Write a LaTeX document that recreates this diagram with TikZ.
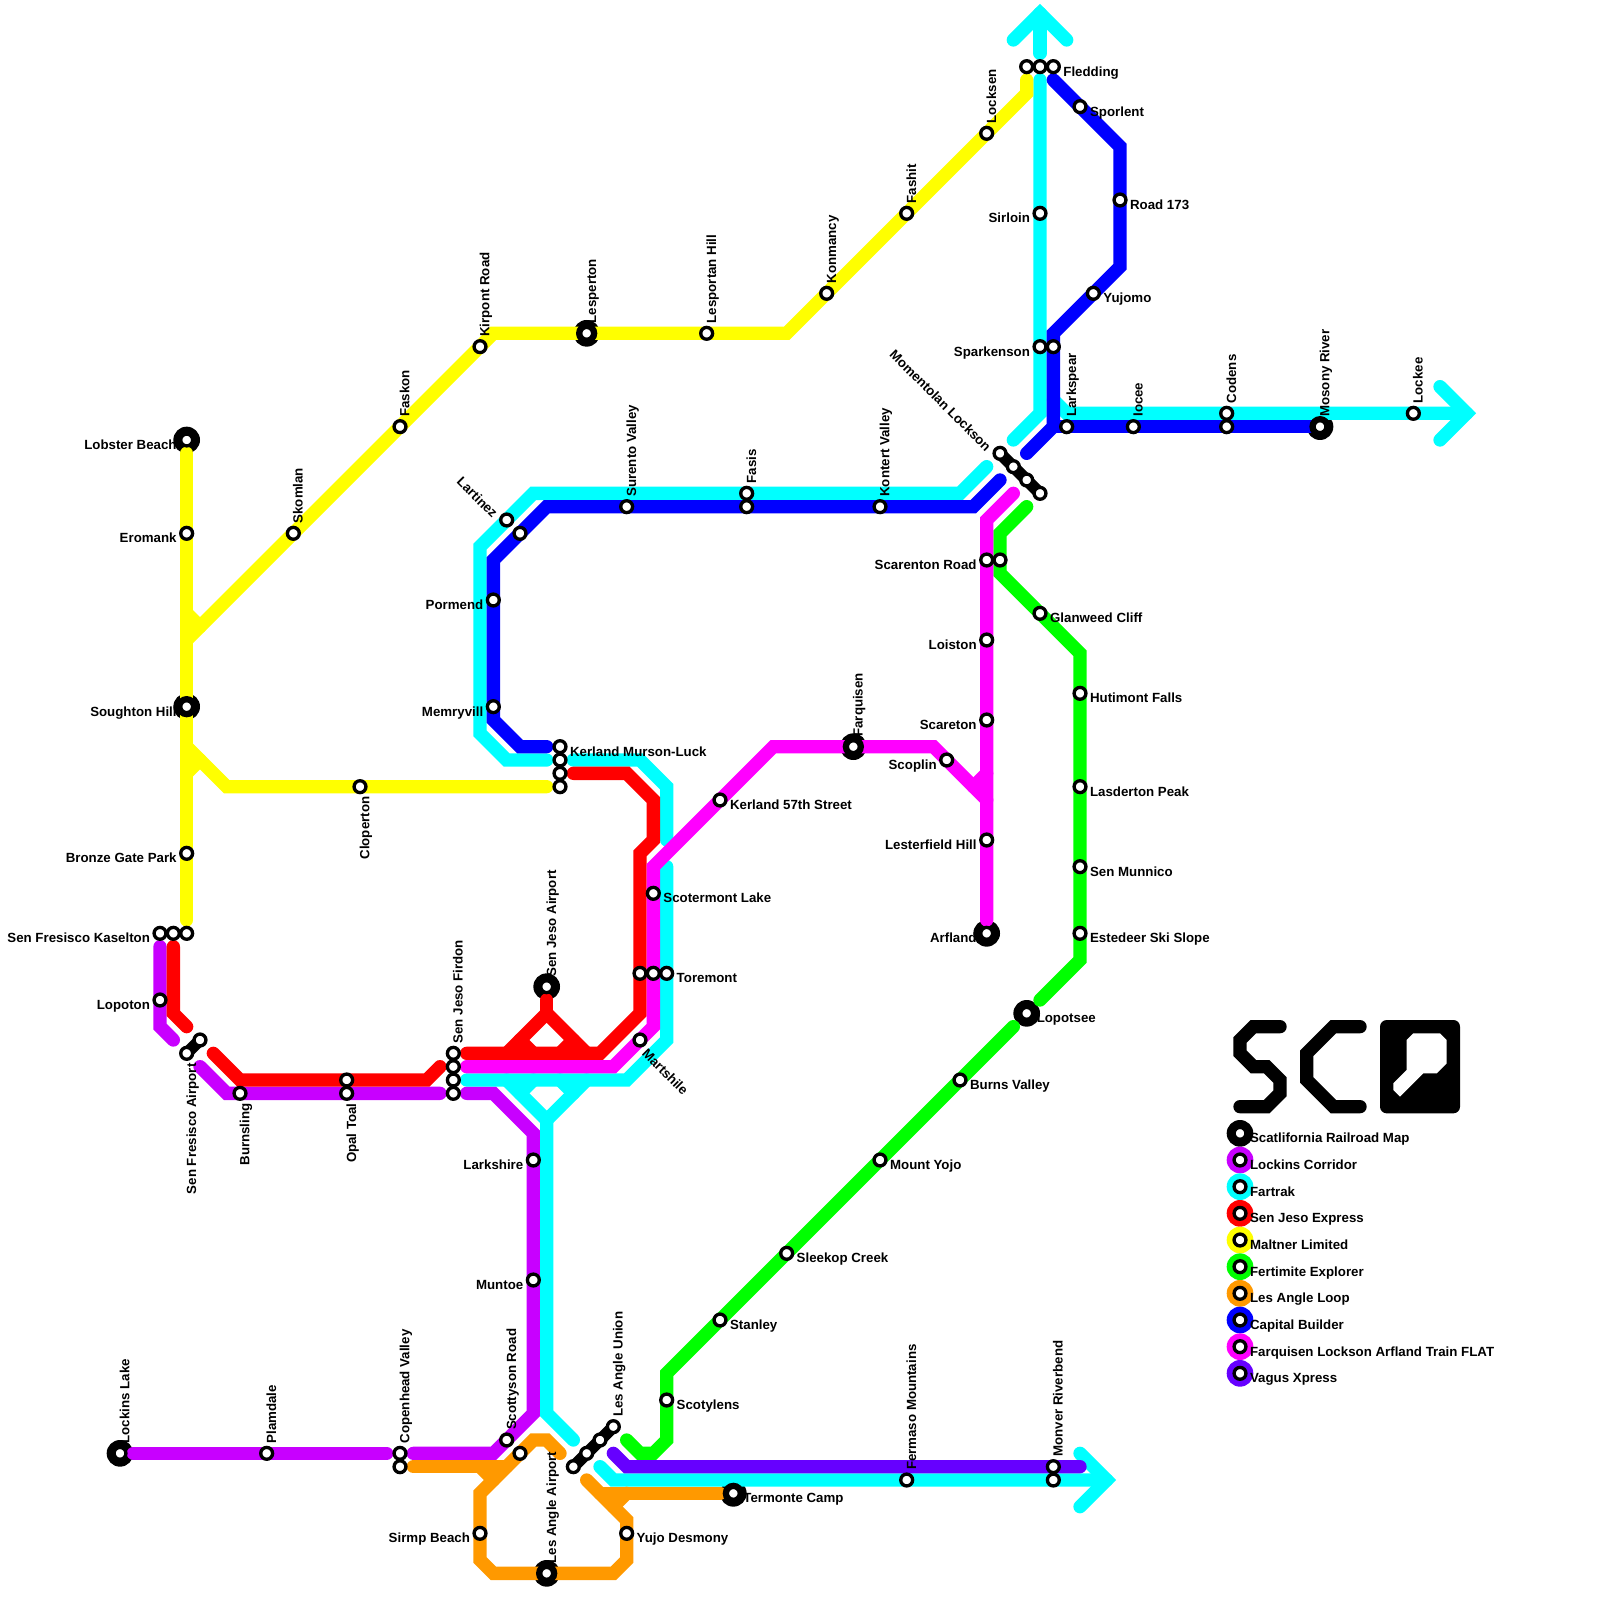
\documentclass[tikz,border=0pt]{standalone}
\usepackage{fontspec}
\setmainfont{Liberation Sans}[BoldFont={Liberation Sans Bold}]
\usetikzlibrary{positioning, backgrounds}
\definecolor{lockinspurple}{RGB}{200,0,255}
\definecolor{fartrakcyan}{RGB}{0,255,255}
\definecolor{jesored}{RGB}{255,0,0}
\definecolor{maltneryellow}{RGB}{255,255,0}
\definecolor{fertimitegreen}{RGB}{0,255,0}
\definecolor{loopamber}{RGB}{255,153,0}
\definecolor{capitalblue}{RGB}{0,0,255}
\definecolor{arflandpink}{RGB}{255,0,255}
\definecolor{vagusviolet}{RGB}{102,0,255}
\tikzset{
  route/.style={line width=0.2cm, line cap=round},
  stop/.style={circle, draw=black, fill=white, line width=0.05cm, minimum size=0.178cm, inner sep=0pt},
  bigdisc/.style={circle, fill=black, minimum size=0.4cm, inner sep=0pt},
  bigcore/.style={circle, fill=black, minimum size=0.32cm, inner sep=0pt},
  rod/.style={line width=0.18cm, black},
  lbl/.style={font=\fontsize{5.67}{6.8}\selectfont\bfseries, inner sep=0pt, text height=0.8em, text depth=0em},
  lblright/.style={lbl, anchor=west},
  lblleft/.style={lbl, anchor=east},
  lblup/.style={lbl, rotate=90, anchor=west},
  lbldown/.style={lbl, rotate=90, anchor=east}
}
\begin{document}
\begin{tikzpicture}[x=0.2cm, y=-0.2cm]
    \useasboundingbox (0,0) rectangle (120,120);

    % Big stations go under the lines
    \foreach \nm/\x/\y in {lobster/14/33, soughton/14/53, lesperton/44/25, jesoair/41/74, lockins/9/109, laairport/41/118, termonte/55/112, lopotsee/77/76, arfland/74/70, farquisen/64/56, mosony/99/32}
        \node[bigdisc] (\nm-disc) at (\x,\y) {};

    % Lockins Corridor
    \draw[route, lockinspurple] (10,109) -- (29,109);
    \draw[route, lockinspurple] (31,109) -- (37,109) -- (40,106) -- (40,85) -- (37,82) -- (35,82);
    \draw[route, lockinspurple] (33,82) -- (17,82) -- (15,80);
    \draw[route, lockinspurple] (13,78) -- (12,77) -- (12,71);

    % Fartrak
    \draw[route, fartrakcyan] (76,3) -- (78,1) -- (80,3);
    \draw[route, fartrakcyan] (78,1) -- (78,4);
    \draw[route, fartrakcyan] (78,6) -- (78,31) -- (76,33);
    \draw[route, fartrakcyan] (79,30) -- (80,31) -- (110,31);
    \draw[route, fartrakcyan] (108,29) -- (110,31) -- (108,33);
    \draw[route, fartrakcyan] (74,35) -- (72,37) -- (40,37) -- (36,41) -- (36,55) -- (38,57) -- (41,57);
    \draw[route, fartrakcyan] (43,57) -- (48,57) -- (50,59) -- (50,63);
    \draw[route, fartrakcyan] (50,65) -- (50,78) -- (47,81) -- (35,81);
    \draw[route, fartrakcyan] (38,81) -- (41,84) -- (44,81);
    \draw[route, fartrakcyan] (39,82) -- (40,81);
    \draw[route, fartrakcyan] (43,82) -- (42,81);
    \draw[route, fartrakcyan] (41,84) -- (41,106) -- (43,108);
    \draw[route, fartrakcyan] (45,110) -- (46,111) -- (83,111);
    \draw[route, fartrakcyan] (81,109) -- (83,111) -- (81,113);

    % Sen Jeso Express
    \draw[route, jesored] (13,71) -- (13,76) -- (14,77);
    \draw[route, jesored] (16,79) -- (18,81) -- (32,81) -- (33,80);
    \draw[route, jesored] (35,79) -- (45,79) -- (48,76) -- (48,64) -- (49,63) -- (49,60) -- (47,58) -- (43,58);
    \draw[route, jesored] (38,79) -- (41,76) -- (44,79);
    \draw[route, jesored] (41,75) -- (41,76);
    \draw[route, jesored] (39,78) -- (40,79);
    \draw[route, jesored] (43,78) -- (42,79);

    % Maltner Limited
    \draw[route, maltneryellow] (14,34) -- (14,69);
    \draw[route, maltneryellow] (14,46) -- (15,47);
    \draw[route, maltneryellow] (14,48) -- (37,25) -- (59,25) -- (77,7) -- (77,6);
    \draw[route, maltneryellow] (14,56) -- (17,59) -- (41,59);
    \draw[route, maltneryellow] (14,58) -- (15,57);

    % Fertimite Explorer
    \draw[route, fertimitegreen] (77,38) -- (75,40) -- (75,43) -- (81,49) -- (81,72) -- (78,75);
    \draw[route, fertimitegreen] (76,77) -- (50,103) -- (50,108) -- (49,109) -- (48,109) -- (47,108);

    % Les Angle Loop
    \draw[route, loopamber] (31,110) -- (38,110);
    \draw[route, loopamber] (36,110) -- (37,111);
    \draw[route, loopamber] (42,109) -- (41,108) -- (40,108) -- (36,112) -- (36,117) -- (37,118) -- (46,118) -- (47,117) -- (47,114) -- (44,111);
    \draw[route, loopamber] (45,112) -- (54,112);
    \draw[route, loopamber] (47,112) -- (46,113);

    % Capital Builder
    \draw[route, capitalblue] (41,56) -- (39,56) -- (37,54) -- (37,42) -- (41,38) -- (73,38) -- (75,36);
    \draw[route, capitalblue] (77,34) -- (79,32) -- (79,25) -- (84,20) -- (84,11) -- (79,6);
    \draw[route, capitalblue] (79,32) -- (99,32);

    % Farquisen Lockson Arfland Train
    \draw[route, arflandpink] (35,80) -- (46,80) -- (49,77) -- (49,65) -- (58,56) -- (70,56) -- (74,60);
    \draw[route, arflandpink] (76,37) -- (74,39) -- (74,69);
    \draw[route, arflandpink] (74,58) -- (73,59);

    % Vagus Xpress
    \draw[route, vagusviolet] (46,109) -- (47,110) -- (81,110);

    % Lines that run through a big station stop at its core
    \foreach \nm/\x/\y in {soughton/14/53, lesperton/44/25, laairport/41/118, termonte/55/112, farquisen/64/56, mosony/99/32}
        \node[bigcore] (\nm-core) at (\x,\y) {};

    % Stations, text to the right
    \foreach \nm/\x/\y/\t in {fledding/79/5/Fledding, sporlent/81/8/Sporlent, roadone/84/15/Road 173, yujomo/82/22/Yujomo, kmurson/42/56/Kerland Murson-Luck, kfiftyseven/54/60/Kerland 57th Street, scotermont/49/67/Scotermont Lake, toremont/50/73/Toremont, glanweed/78/46/Glanweed Cliff, hutimont/81/52/Hutimont Falls, lasderton/81/59/Lasderton Peak, munnico/81/65/Sen Munnico, estedeer/81/70/Estedeer Ski Slope, lopotsee/77/76/Lopotsee, burns/72/81/Burns Valley, yojo/66/87/Mount Yojo, sleekop/59/94/Sleekop Creek, stanley/54/99/Stanley, scotylens/50/105/Scotylens, yujo/47/115/Yujo Desmony, termonte/55/112/Termonte Camp}{
        \node[stop] (\nm) at (\x,\y) {};
        \node[lblright] (\nm-l) at (\x+0.72,\y) {\t};
    }

    % Stations, text to the left
    \foreach \nm/\x/\y/\t in {lobster/14/33/Lobster Beach, eromank/14/40/Eromank, soughton/14/53/Soughton Hill, bronze/14/64/Bronze Gate Park, kaselton/12/70/Sen Fresisco Kaselton, lopoton/12/75/Lopoton, larkshire/40/87/Larkshire, muntoe/40/96/Muntoe, sirmp/36/115/Sirmp Beach, pormend/37/45/Pormend, memryvill/37/53/Memryvill, sirloin/78/16/Sirloin, sparkenson/78/26/Sparkenson, scarenton/74/42/Scarenton Road, loiston/74/48/Loiston, scareton/74/54/Scareton, scoplin/71/57/Scoplin, lesterfield/74/63/Lesterfield Hill, arfland/74/70/Arfland}{
        \node[stop] (\nm) at (\x,\y) {};
        \node[lblleft] (\nm-l) at (\x-0.72,\y) {\t};
    }

    % Stations, text going up
    \foreach \nm/\x/\y/\t in {skomlan/22/40/Skomlan, faskon/30/32/Faskon, kirpont/36/26/Kirpont Road, lesperton/44/25/Lesperton, lesportan/53/25/Lesportan Hill, konmancy/62/22/Konmancy, fashit/68/16/Fashit, locksen/74/10/Locksen, firdon/34/79/Sen Jeso Firdon, jesoair/41/74/Sen Jeso Airport, copenhead/30/109/Copenhead Valley, lockins/9/109/Lockins Lake, plamdale/20/109/Plamdale, scottyson/38/108/Scottyson Road, laairport/41/118/Les Angle Airport, launion/46/107/Les Angle Union, fermaso/68/111/Fermaso Mountains, monver/79/110/Monver Riverbend, surento/47/38/Surento Valley, fasis/56/37/Fasis, kontert/66/38/Kontert Valley, farquisen/64/56/Farquisen, larkspear/80/32/Larkspear, iocee/85/32/Iocee, codens/92/31/Codens, mosony/99/32/Mosony River, lockee/106/31/Lockee}{
        \node[stop] (\nm) at (\x,\y) {};
        \node[lblup] (\nm-l) at (\x,\y-0.72) {\t};
    }

    % Stations, text going down
    \foreach \nm/\x/\y/\t in {cloperton/27/59/Cloperton, sfairport/14/79/Sen Fresisco Airport, burnsling/18/82/Burnsling, opal/26/82/Opal Toal}{
        \node[stop] (\nm) at (\x,\y) {};
        \node[lbldown] (\nm-l) at (\x,\y+0.72) {\t};
    }

    % Stations, slanted text
    \foreach \nm/\x/\y/\t in {lartinez/38/39/Lartinez, momentolan/75/34/Momentolan Lockson}{
        \node[stop] (\nm) at (\x,\y) {};
        \node[lbl, rotate=-45, anchor=east] (\nm-l) at (\x-0.57,\y-0.57) {\t};
    }
    \node[stop] (martshile) at (48,78) {};
    \node[lbl, rotate=-45, anchor=west] (martshile-l) at (48.57,78.57) {Martshile};

    % Stations with no text of their own
    \foreach \nm/\x/\y in {fleddinga/77/5, fleddingb/78/5, sparkensonb/79/26, kaseltonb/13/70, kaseltonc/14/70, sfairportb/15/78, opalb/26/81, firdonb/34/80, firdonc/34/81, firdond/34/82, copenheadb/30/110, scottysonb/39/109, launionb/45/108, launionc/44/109, launiond/43/110, monverb/79/111, toremonta/48/73, toremontb/49/73, kmursonb/42/57, kmursonc/42/58, kmursond/42/59, scarentonb/75/42, lartinezb/39/40, fasisb/56/38, momentolanb/76/35, momentolanc/77/36, momentoland/78/37, codensb/92/32}
        \node[stop] (\nm) at (\x,\y) {};

    % Rods between interchange stations
    \begin{scope}[on background layer]
        \draw[rod] (sfairport.center) -- (sfairportb.center);
        \draw[rod] (launion.center) -- (launionb.center);
        \draw[rod] (launionb.center) -- (launionc.center);
        \draw[rod] (launionc.center) -- (launiond.center);
        \draw[rod] (momentolan.center) -- (momentolanb.center);
        \draw[rod] (momentolanb.center) -- (momentolanc.center);
        \draw[rod] (momentolanc.center) -- (momentoland.center);
    \end{scope}

    % Logo
    \draw[route, black] (96,77) -- (94,77) -- (93,78) -- (93,79) -- (94,80) -- (95,80) -- (96,81) -- (96,82) -- (95,83) -- (93,83);
    \draw[route, black] (102,77) -- (100,77) -- (98,79) -- (98,81) -- (100,83) -- (102,83);
    \fill[black, rounded corners=0.1cm] (103.5,76.5) rectangle (109.5,83.5);
    \fill[white] (106,77.5) -- (108,77.5) -- (108.5,78) -- (108.5,79.75) -- (107.75,80.5) -- (106.75,80.5) -- (105,82.25) -- (104.5,81.75) -- (104.5,81.25) -- (105.5,80.25) -- (105.5,78) -- cycle;

    % Key
    \foreach \nm/\c/\y/\t in {keytitle/black/85/Scatlifornia Railroad Map, keylockins/lockinspurple/87/Lockins Corridor, keyfartrak/fartrakcyan/89/Fartrak, keyjeso/jesored/91/Sen Jeso Express, keymaltner/maltneryellow/93/Maltner Limited, keyfertimite/fertimitegreen/95/Fertimite Explorer, keyloop/loopamber/97/Les Angle Loop, keycapital/capitalblue/99/Capital Builder, keyarfland/arflandpink/101/Farquisen Lockson Arfland Train FLAT, keyvagus/vagusviolet/103/Vagus Xpress}{
        \node[bigdisc, fill=\c] (\nm-disc) at (93,\y) {};
        \node[stop] (\nm) at (93,\y) {};
        \node[lblright] (\nm-l) at (93.72,\y) {\t};
    }
\end{tikzpicture}
\end{document}
